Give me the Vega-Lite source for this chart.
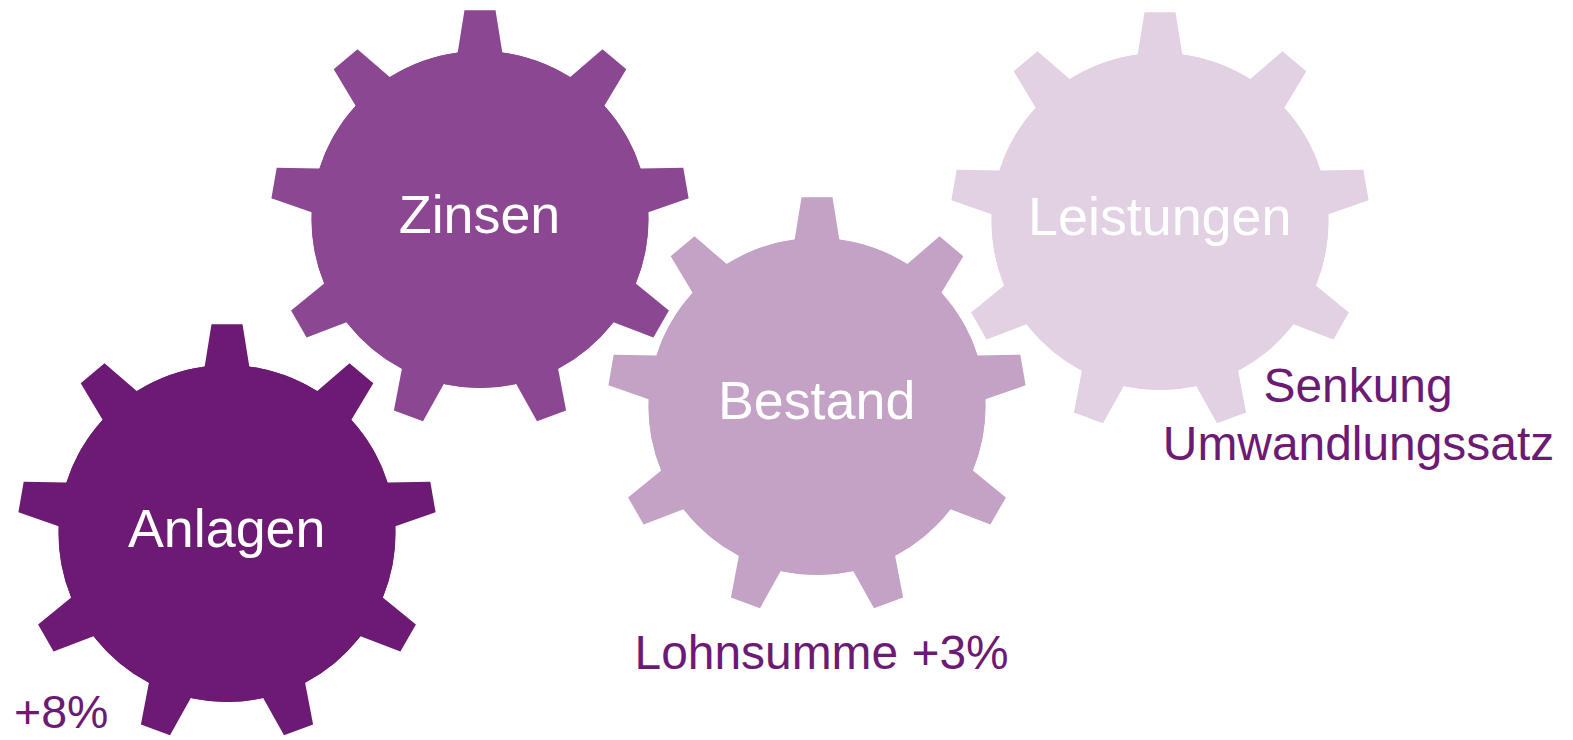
{"$schema":"https://vega.github.io/schema/vega-lite/v6.json","width":1573,"height":740,"padding":0,"autosize":{"type":"none"},"background":"white","view":{"stroke":null},
"datasets":{"gears":[
{"g":"Zinsen","x":502.3,"y":52.4},{"g":"Zinsen","x":520.2,"y":55.8},{"g":"Zinsen","x":537.6,"y":61.1},{"g":"Zinsen","x":554.4,"y":68.2},{"g":"Zinsen","x":570.3,"y":77.1},{"g":"Zinsen","x":602.5,"y":49.2},{"g":"Zinsen","x":626.3,"y":69.2},{"g":"Zinsen","x":604.4,"y":105.8},{"g":"Zinsen","x":616,"y":119.9},{"g":"Zinsen","x":625.9,"y":135.1},{"g":"Zinsen","x":634.2,"y":151.4},{"g":"Zinsen","x":640.6,"y":168.4},{"g":"Zinsen","x":683.3,"y":167.8},{"g":"Zinsen","x":688.6,"y":198.3},{"g":"Zinsen","x":648.4,"y":212.3},{"g":"Zinsen","x":648.1,"y":230.6},{"g":"Zinsen","x":645.9,"y":248.7},{"g":"Zinsen","x":641.8,"y":266.4},{"g":"Zinsen","x":635.8,"y":283.6},{"g":"Zinsen","x":668.9,"y":310.5},{"g":"Zinsen","x":653.4,"y":337.4},{"g":"Zinsen","x":613.5,"y":322.2},{"g":"Zinsen","x":601.6,"y":336},{"g":"Zinsen","x":588.3,"y":348.5},{"g":"Zinsen","x":573.7,"y":359.4},{"g":"Zinsen","x":558.1,"y":368.7},{"g":"Zinsen","x":566.1,"y":410.6},{"g":"Zinsen","x":537,"y":421.2},{"g":"Zinsen","x":516.2,"y":384},{"g":"Zinsen","x":498.2,"y":386.9},{"g":"Zinsen","x":480,"y":387.9},{"g":"Zinsen","x":461.8,"y":386.9},{"g":"Zinsen","x":443.8,"y":384},{"g":"Zinsen","x":423,"y":421.2},{"g":"Zinsen","x":393.9,"y":410.6},{"g":"Zinsen","x":401.9,"y":368.7},{"g":"Zinsen","x":386.3,"y":359.4},{"g":"Zinsen","x":371.7,"y":348.5},{"g":"Zinsen","x":358.4,"y":336},{"g":"Zinsen","x":346.5,"y":322.2},{"g":"Zinsen","x":306.6,"y":337.4},{"g":"Zinsen","x":291.1,"y":310.5},{"g":"Zinsen","x":324.2,"y":283.6},{"g":"Zinsen","x":318.2,"y":266.4},{"g":"Zinsen","x":314.1,"y":248.7},{"g":"Zinsen","x":311.9,"y":230.6},{"g":"Zinsen","x":311.6,"y":212.3},{"g":"Zinsen","x":271.4,"y":198.3},{"g":"Zinsen","x":276.7,"y":167.8},{"g":"Zinsen","x":319.4,"y":168.4},{"g":"Zinsen","x":325.8,"y":151.4},{"g":"Zinsen","x":334.1,"y":135.1},{"g":"Zinsen","x":344,"y":119.9},{"g":"Zinsen","x":355.6,"y":105.8},{"g":"Zinsen","x":333.7,"y":69.2},{"g":"Zinsen","x":357.5,"y":49.2},{"g":"Zinsen","x":389.7,"y":77.1},{"g":"Zinsen","x":405.6,"y":68.2},{"g":"Zinsen","x":422.4,"y":61.1},{"g":"Zinsen","x":439.8,"y":55.8},{"g":"Zinsen","x":457.7,"y":52.4},{"g":"Zinsen","x":464.5,"y":10.3},{"g":"Zinsen","x":495.5,"y":10.3},
{"g":"Anlagen","x":249.3,"y":366.4},{"g":"Anlagen","x":267.2,"y":369.8},{"g":"Anlagen","x":284.6,"y":375.1},{"g":"Anlagen","x":301.4,"y":382.2},{"g":"Anlagen","x":317.3,"y":391.1},{"g":"Anlagen","x":349.5,"y":363.2},{"g":"Anlagen","x":373.3,"y":383.2},{"g":"Anlagen","x":351.4,"y":419.8},{"g":"Anlagen","x":363,"y":433.9},{"g":"Anlagen","x":372.9,"y":449.1},{"g":"Anlagen","x":381.2,"y":465.4},{"g":"Anlagen","x":387.6,"y":482.4},{"g":"Anlagen","x":430.3,"y":481.8},{"g":"Anlagen","x":435.6,"y":512.3},{"g":"Anlagen","x":395.4,"y":526.3},{"g":"Anlagen","x":395.1,"y":544.6},{"g":"Anlagen","x":392.9,"y":562.7},{"g":"Anlagen","x":388.8,"y":580.4},{"g":"Anlagen","x":382.8,"y":597.6},{"g":"Anlagen","x":415.9,"y":624.5},{"g":"Anlagen","x":400.4,"y":651.4},{"g":"Anlagen","x":360.5,"y":636.2},{"g":"Anlagen","x":348.6,"y":650},{"g":"Anlagen","x":335.3,"y":662.5},{"g":"Anlagen","x":320.7,"y":673.4},{"g":"Anlagen","x":305.1,"y":682.7},{"g":"Anlagen","x":313.1,"y":724.6},{"g":"Anlagen","x":284,"y":735.2},{"g":"Anlagen","x":263.2,"y":698},{"g":"Anlagen","x":245.2,"y":700.9},{"g":"Anlagen","x":227,"y":701.9},{"g":"Anlagen","x":208.8,"y":700.9},{"g":"Anlagen","x":190.8,"y":698},{"g":"Anlagen","x":170,"y":735.2},{"g":"Anlagen","x":140.9,"y":724.6},{"g":"Anlagen","x":148.9,"y":682.7},{"g":"Anlagen","x":133.3,"y":673.4},{"g":"Anlagen","x":118.7,"y":662.5},{"g":"Anlagen","x":105.4,"y":650},{"g":"Anlagen","x":93.5,"y":636.2},{"g":"Anlagen","x":53.6,"y":651.4},{"g":"Anlagen","x":38.1,"y":624.5},{"g":"Anlagen","x":71.2,"y":597.6},{"g":"Anlagen","x":65.2,"y":580.4},{"g":"Anlagen","x":61.1,"y":562.7},{"g":"Anlagen","x":58.9,"y":544.6},{"g":"Anlagen","x":58.6,"y":526.3},{"g":"Anlagen","x":18.4,"y":512.3},{"g":"Anlagen","x":23.7,"y":481.8},{"g":"Anlagen","x":66.4,"y":482.4},{"g":"Anlagen","x":72.8,"y":465.4},{"g":"Anlagen","x":81.1,"y":449.1},{"g":"Anlagen","x":91,"y":433.9},{"g":"Anlagen","x":102.6,"y":419.8},{"g":"Anlagen","x":80.7,"y":383.2},{"g":"Anlagen","x":104.5,"y":363.2},{"g":"Anlagen","x":136.7,"y":391.1},{"g":"Anlagen","x":152.6,"y":382.2},{"g":"Anlagen","x":169.4,"y":375.1},{"g":"Anlagen","x":186.8,"y":369.8},{"g":"Anlagen","x":204.7,"y":366.4},{"g":"Anlagen","x":211.5,"y":324.3},{"g":"Anlagen","x":242.5,"y":324.3},
{"g":"Bestand","x":839.3,"y":239.4},{"g":"Bestand","x":857.2,"y":242.8},{"g":"Bestand","x":874.6,"y":248.1},{"g":"Bestand","x":891.4,"y":255.2},{"g":"Bestand","x":907.3,"y":264.1},{"g":"Bestand","x":939.5,"y":236.2},{"g":"Bestand","x":963.3,"y":256.2},{"g":"Bestand","x":941.4,"y":292.8},{"g":"Bestand","x":953,"y":306.9},{"g":"Bestand","x":962.9,"y":322.1},{"g":"Bestand","x":971.2,"y":338.4},{"g":"Bestand","x":977.6,"y":355.4},{"g":"Bestand","x":1020.3,"y":354.8},{"g":"Bestand","x":1025.6,"y":385.3},{"g":"Bestand","x":985.4,"y":399.3},{"g":"Bestand","x":985.1,"y":417.6},{"g":"Bestand","x":982.9,"y":435.7},{"g":"Bestand","x":978.8,"y":453.4},{"g":"Bestand","x":972.8,"y":470.6},{"g":"Bestand","x":1005.9,"y":497.5},{"g":"Bestand","x":990.4,"y":524.4},{"g":"Bestand","x":950.5,"y":509.2},{"g":"Bestand","x":938.6,"y":523},{"g":"Bestand","x":925.3,"y":535.5},{"g":"Bestand","x":910.7,"y":546.4},{"g":"Bestand","x":895.1,"y":555.7},{"g":"Bestand","x":903.1,"y":597.6},{"g":"Bestand","x":874,"y":608.2},{"g":"Bestand","x":853.2,"y":571},{"g":"Bestand","x":835.2,"y":573.9},{"g":"Bestand","x":817,"y":574.9},{"g":"Bestand","x":798.8,"y":573.9},{"g":"Bestand","x":780.8,"y":571},{"g":"Bestand","x":760,"y":608.2},{"g":"Bestand","x":730.9,"y":597.6},{"g":"Bestand","x":738.9,"y":555.7},{"g":"Bestand","x":723.3,"y":546.4},{"g":"Bestand","x":708.7,"y":535.5},{"g":"Bestand","x":695.4,"y":523},{"g":"Bestand","x":683.5,"y":509.2},{"g":"Bestand","x":643.6,"y":524.4},{"g":"Bestand","x":628.1,"y":497.5},{"g":"Bestand","x":661.2,"y":470.6},{"g":"Bestand","x":655.2,"y":453.4},{"g":"Bestand","x":651.1,"y":435.7},{"g":"Bestand","x":648.9,"y":417.6},{"g":"Bestand","x":648.6,"y":399.3},{"g":"Bestand","x":608.4,"y":385.3},{"g":"Bestand","x":613.7,"y":354.8},{"g":"Bestand","x":656.4,"y":355.4},{"g":"Bestand","x":662.8,"y":338.4},{"g":"Bestand","x":671.1,"y":322.1},{"g":"Bestand","x":681,"y":306.9},{"g":"Bestand","x":692.6,"y":292.8},{"g":"Bestand","x":670.7,"y":256.2},{"g":"Bestand","x":694.5,"y":236.2},{"g":"Bestand","x":726.7,"y":264.1},{"g":"Bestand","x":742.6,"y":255.2},{"g":"Bestand","x":759.4,"y":248.1},{"g":"Bestand","x":776.8,"y":242.8},{"g":"Bestand","x":794.7,"y":239.4},{"g":"Bestand","x":801.5,"y":197.3},{"g":"Bestand","x":832.5,"y":197.3},
{"g":"Leistungen","x":1182.3,"y":54.4},{"g":"Leistungen","x":1200.2,"y":57.8},{"g":"Leistungen","x":1217.6,"y":63.1},{"g":"Leistungen","x":1234.4,"y":70.2},{"g":"Leistungen","x":1250.3,"y":79.1},{"g":"Leistungen","x":1282.5,"y":51.2},{"g":"Leistungen","x":1306.3,"y":71.2},{"g":"Leistungen","x":1284.4,"y":107.8},{"g":"Leistungen","x":1296,"y":121.9},{"g":"Leistungen","x":1305.9,"y":137.1},{"g":"Leistungen","x":1314.2,"y":153.4},{"g":"Leistungen","x":1320.6,"y":170.4},{"g":"Leistungen","x":1363.3,"y":169.8},{"g":"Leistungen","x":1368.6,"y":200.3},{"g":"Leistungen","x":1328.4,"y":214.3},{"g":"Leistungen","x":1328.1,"y":232.6},{"g":"Leistungen","x":1325.9,"y":250.7},{"g":"Leistungen","x":1321.8,"y":268.4},{"g":"Leistungen","x":1315.8,"y":285.6},{"g":"Leistungen","x":1348.9,"y":312.5},{"g":"Leistungen","x":1333.4,"y":339.4},{"g":"Leistungen","x":1293.5,"y":324.2},{"g":"Leistungen","x":1281.6,"y":338},{"g":"Leistungen","x":1268.3,"y":350.5},{"g":"Leistungen","x":1253.7,"y":361.4},{"g":"Leistungen","x":1238.1,"y":370.7},{"g":"Leistungen","x":1246.1,"y":412.6},{"g":"Leistungen","x":1217,"y":423.2},{"g":"Leistungen","x":1196.2,"y":386},{"g":"Leistungen","x":1178.2,"y":388.9},{"g":"Leistungen","x":1160,"y":389.9},{"g":"Leistungen","x":1141.8,"y":388.9},{"g":"Leistungen","x":1123.8,"y":386},{"g":"Leistungen","x":1103,"y":423.2},{"g":"Leistungen","x":1073.9,"y":412.6},{"g":"Leistungen","x":1081.9,"y":370.7},{"g":"Leistungen","x":1066.3,"y":361.4},{"g":"Leistungen","x":1051.7,"y":350.5},{"g":"Leistungen","x":1038.4,"y":338},{"g":"Leistungen","x":1026.5,"y":324.2},{"g":"Leistungen","x":986.6,"y":339.4},{"g":"Leistungen","x":971.1,"y":312.5},{"g":"Leistungen","x":1004.2,"y":285.6},{"g":"Leistungen","x":998.2,"y":268.4},{"g":"Leistungen","x":994.1,"y":250.7},{"g":"Leistungen","x":991.9,"y":232.6},{"g":"Leistungen","x":991.6,"y":214.3},{"g":"Leistungen","x":951.4,"y":200.3},{"g":"Leistungen","x":956.7,"y":169.8},{"g":"Leistungen","x":999.4,"y":170.4},{"g":"Leistungen","x":1005.8,"y":153.4},{"g":"Leistungen","x":1014.1,"y":137.1},{"g":"Leistungen","x":1024,"y":121.9},{"g":"Leistungen","x":1035.6,"y":107.8},{"g":"Leistungen","x":1013.7,"y":71.2},{"g":"Leistungen","x":1037.5,"y":51.2},{"g":"Leistungen","x":1069.7,"y":79.1},{"g":"Leistungen","x":1085.6,"y":70.2},{"g":"Leistungen","x":1102.4,"y":63.1},{"g":"Leistungen","x":1119.8,"y":57.8},{"g":"Leistungen","x":1137.7,"y":54.4},{"g":"Leistungen","x":1144.5,"y":12.3},{"g":"Leistungen","x":1175.5,"y":12.3}
],
"hubs":[{"g":"Zinsen","x":480,"y":219.4},{"g":"Anlagen","x":227,"y":533.4},{"g":"Bestand","x":817,"y":406.4},{"g":"Leistungen","x":1160,"y":221.4}],
"inner":[{"t":"Anlagen","x":226.7,"y":547},{"t":"Zinsen","x":479.5,"y":232.7},{"t":"Bestand","x":816.6,"y":419.3},{"t":"Leistungen","x":1159.7,"y":234.7}],
"outer":[{"t":"Lohnsumme +3%","x":821.6,"y":669},{"t":"Senkung","x":1358,"y":402.3},{"t":"Umwandlungssatz","x":1358.5,"y":459.5}],
"small":[{"t":"+8%","x":61.2,"y":728}]},
"layer":[
{"data":{"name":"gears"},"transform":[{"window":[{"op":"row_number","as":"s"}],"groupby":["g"]}],"mark":{"type":"line","filled":true,"strokeWidth":0,"interpolate":"linear-closed"},
"encoding":{"x":{"field":"x","type":"quantitative","scale":{"domain":[0,1573],"nice":false,"zero":false},"axis":null},"y":{"field":"y","type":"quantitative","scale":{"domain":[740,0],"nice":false,"zero":false},"axis":null},"order":{"field":"s","type":"quantitative"},
"color":{"field":"g","type":"nominal","legend":null,"scale":{"domain":["Anlagen","Zinsen","Bestand","Leistungen"],"range":["#6C1A74","#8B4791","#C3A2C6","#E2D1E3"]}}}},
{"data":{"name":"hubs"},"mark":{"type":"point","shape":"circle","filled":true,"size":113569,"opacity":1,"strokeWidth":0},
"encoding":{"x":{"field":"x","type":"quantitative"},"y":{"field":"y","type":"quantitative"},"color":{"field":"g","type":"nominal","legend":null}}},
{"data":{"name":"inner"},"mark":{"type":"text","font":"Liberation Sans","fontSize":53.8,"align":"center","baseline":"alphabetic","color":"#FFFFFF"},
"encoding":{"x":{"field":"x","type":"quantitative"},"y":{"field":"y","type":"quantitative"},"text":{"field":"t"}}},
{"data":{"name":"outer"},"mark":{"type":"text","font":"Liberation Sans","fontSize":47.9,"align":"center","baseline":"alphabetic","color":"#6C1A74"},
"encoding":{"x":{"field":"x","type":"quantitative"},"y":{"field":"y","type":"quantitative"},"text":{"field":"t"}}},
{"data":{"name":"small"},"mark":{"type":"text","font":"Liberation Sans","fontSize":46.5,"align":"center","baseline":"alphabetic","color":"#6C1A74"},
"encoding":{"x":{"field":"x","type":"quantitative"},"y":{"field":"y","type":"quantitative"},"text":{"field":"t"}}}
]}
